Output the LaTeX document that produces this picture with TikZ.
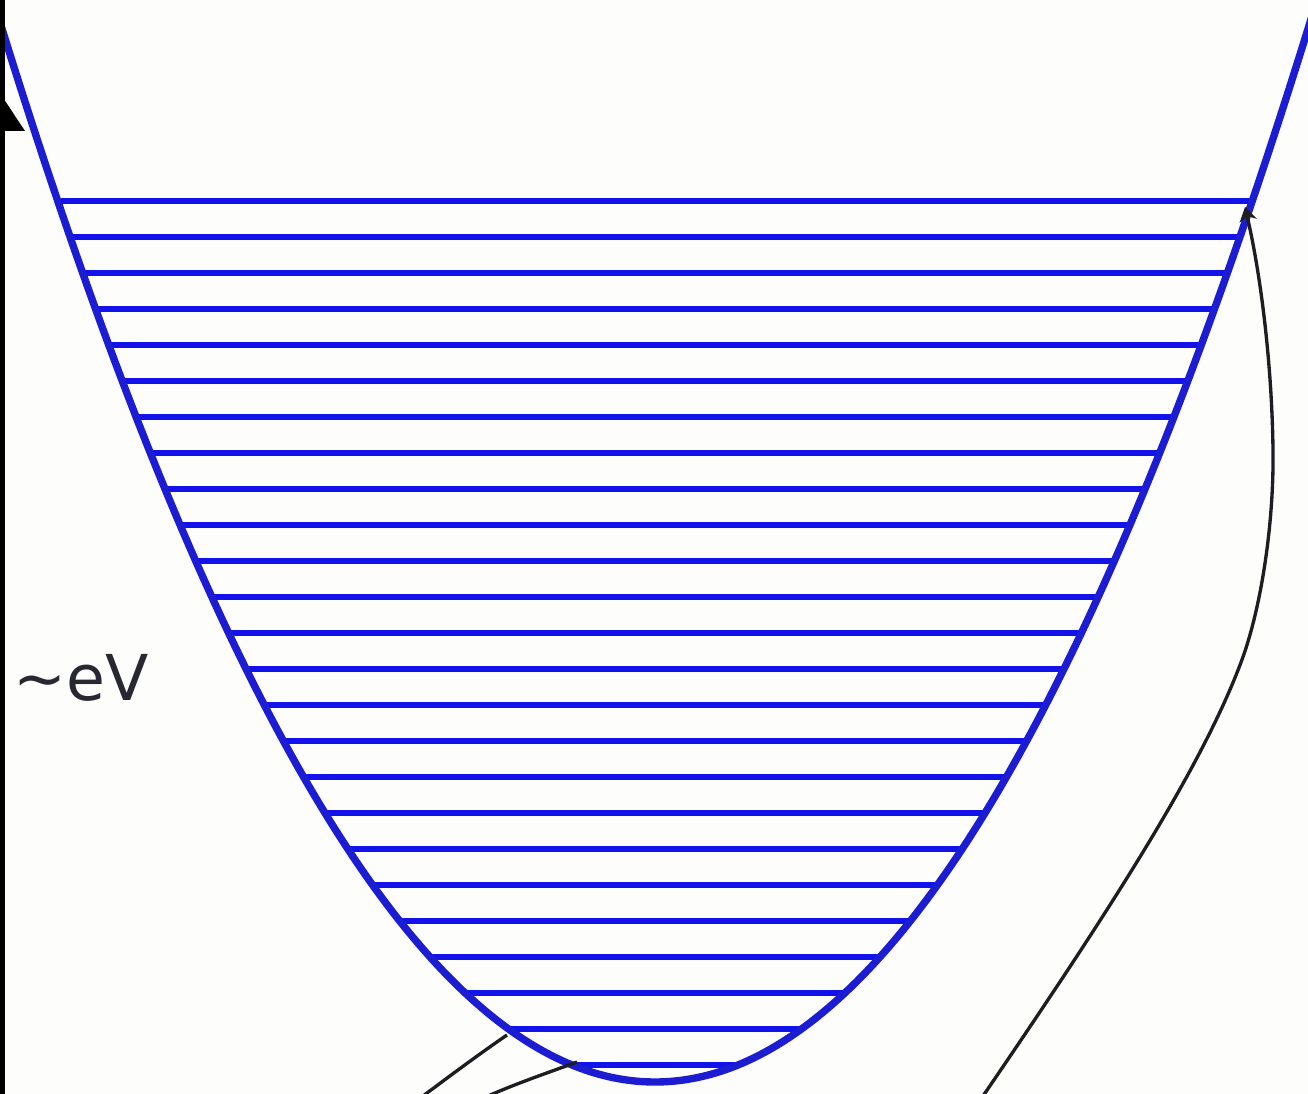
\documentclass[tikz,border=0pt]{standalone}
\usepackage{fontspec}
\newfontfamily\dejavu{DejaVu Sans}
\usetikzlibrary{arrows.meta}
\definecolor{bg}{RGB}{253,253,251}
\definecolor{wellblue}{RGB}{28,28,210}
\definecolor{levelblue}{RGB}{18,18,235}
\definecolor{ink}{RGB}{30,30,34}
\definecolor{labelgray}{RGB}{40,40,50}
\tikzset{
  well/.style={draw=wellblue, line width=4.2pt},
  level/.style={draw=levelblue, line width=3.2pt},
  pointer/.style={draw=ink, line width=1.9pt},
  axisline/.style={draw=black, line width=2.8pt},
}
\begin{document}
\begin{tikzpicture}[x=0.02cm,y=-0.02cm]
\useasboundingbox (0,0) rectangle (1308,1094);
\fill[bg] (0,0) rectangle (1308,1094);
\clip (0,0) rectangle (1308,1094);
% energy levels
\foreach \i in {0,...,24} {
  \pgfmathsetmacro\yy{201+36*\i}
  \pgfmathsetmacro\ww{20.04*sqrt(1081-\yy)}
  \coordinate (L\i) at ({655-\ww},\yy);
  \coordinate (R\i) at ({655+\ww},\yy);
  \draw[level] (L\i) -- (R\i);
}
% potential well
\draw[well] plot[domain=-20:1330,samples=240] ({\x},{1082-(0.0497*(\x-655))^2});
% vertical energy axis
\coordinate (axb) at (2.5,1100);
\coordinate (axt) at (2.5,-5);
\draw[axisline] (axb) -- (axt);
\fill[black] (2.5,97) -- (25,131) -- (-20,131) -- cycle;
\node[font=\dejavu\fontsize{36}{40}\selectfont, text=labelgray, anchor=base west, inner sep=0pt] (ev) at (13,700) {\char"007E eV};
% pointers at the bottom
\coordinate (a0) at (423,1096);
\coordinate (a1) at (507,1035);
\coordinate (b0) at (488,1096);
\coordinate (b1) at (577,1062);
\draw[pointer] (a0) .. controls (455,1072) and (485,1050) .. (a1);
\draw[pointer] (b0) .. controls (520,1082) and (550,1072) .. (b1);
% long arrow to top level
\coordinate (c0) at (983,1096);
\coordinate (cm1) at (1240,665);
\coordinate (cm2) at (1273,450);
\coordinate (c1) at (1245,207);
\draw[pointer, -{Stealth[length=8pt,width=10pt]}] (c0) .. controls (1110,910) and (1200,770) .. (cm1)
  .. controls (1262,608) and (1274,520) .. (cm2)
  .. controls (1272,370) and (1262,280) .. (c1);
\end{tikzpicture}
\end{document}
